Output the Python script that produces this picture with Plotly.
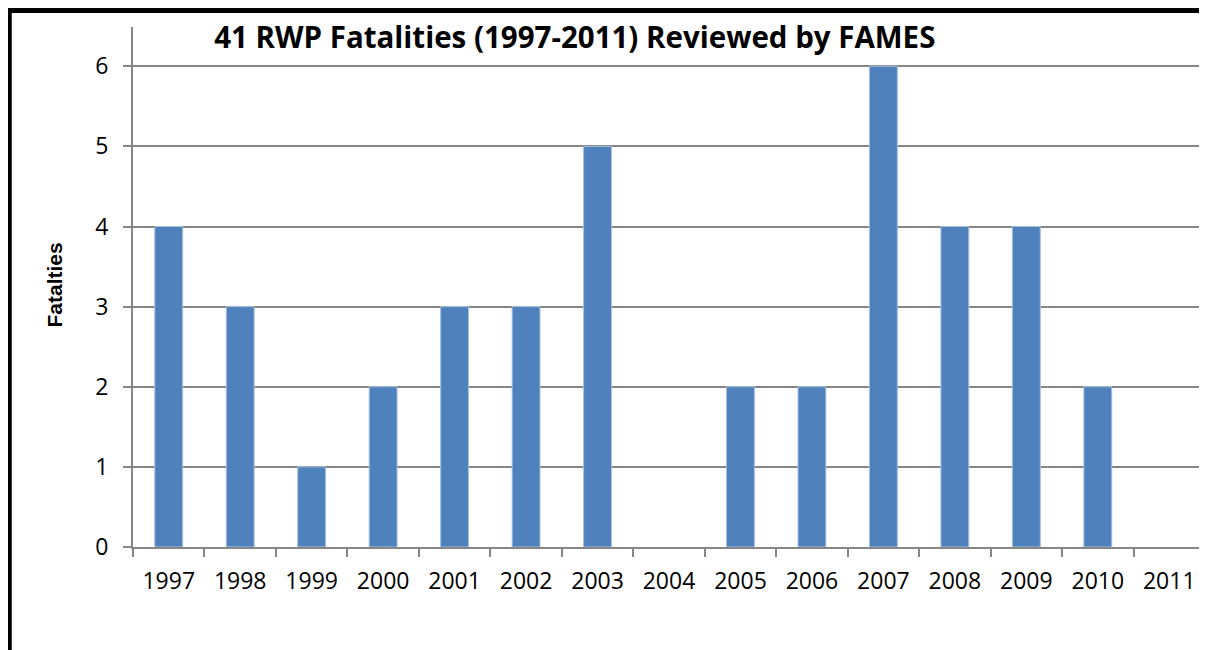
import plotly.graph_objects as go

years = ["1997", "1998", "1999", "2000", "2001", "2002", "2003", "2004",
         "2005", "2006", "2007", "2008", "2009", "2010", "2011"]
fatalities = [4, 3, 1, 2, 3, 3, 5, 0, 2, 2, 6, 4, 4, 2, 0]

# page body has an 8px margin, so the figure starts at screen (8, 8)
OFF = 8
W, H = 1207 - OFF, 650 - OFF
L, R, T, B = 133 - OFF, 1.5, 27 - OFF, 650 - 547
pw, ph = W - L - R, H - T - B

def sx(px):  # screen x -> paper
    return (px - OFF - L) / pw

def sy(py):  # screen y -> paper
    return (H - B - (py - OFF)) / ph

fig = go.Figure(go.Bar(
    x=years, y=fatalities,
    marker=dict(color="#4F81BD",
                line=dict(color="#A7C0E0",
                          width=[1 if v else 0 for v in fatalities])),
    width=0.39,
))

font = "'Open Sans', sans-serif"

fig.update_layout(
    width=W, height=H,
    margin=dict(l=L, r=R, t=T, b=B, pad=0),
    paper_bgcolor="white", plot_bgcolor="white",
    showlegend=False,
    font=dict(family=font, color="black", size=23),
    title=dict(text="<b>41 RWP Fatalities (1997-2011) Reviewed by FAMES</b>",
               x=sx(575), xref="paper", xanchor="center",
               y=1 - (38 - OFF) / H, yanchor="middle",
               font=dict(size=29.5, family=font, color="black")),
    xaxis=dict(type="category", tickson="boundaries", ticks="outside",
               ticklen=8, tickcolor="#868686", tickwidth=1.5,
               showline=True, linecolor="#868686", linewidth=2,
               showgrid=False, tickfont=dict(size=23),
               ticklabelstandoff=12,
               range=[-0.5, 14.5]),
    yaxis=dict(range=[0, 6.49], dtick=1, tick0=0, ticks="outside",
               ticklen=8, tickcolor="#868686", tickwidth=1.5,
               showline=True, linecolor="#868686", linewidth=2,
               showgrid=True, gridcolor="#868686", gridwidth=1.5,
               zeroline=False, tickfont=dict(size=23),
               ticklabelstandoff=10,
               title=dict(text="")),
    annotations=[dict(text="<b>Fatalties</b>", textangle=-90,
                      xref="paper", yref="paper", x=sx(53.5), y=sy(285),
                      xanchor="center", yanchor="middle", showarrow=False,
                      font=dict(family="'Liberation Sans', Arial, sans-serif",
                                size=21, color="black"))],
    shapes=[dict(type="rect", xref="paper", yref="paper",
                 x0=sx(9.2), x1=sx(1260),
                 y0=sy(700), y1=sy(10.5),
                 line=dict(color="black", width=5), layer="above")],
)

fig.write_html("out.html")
